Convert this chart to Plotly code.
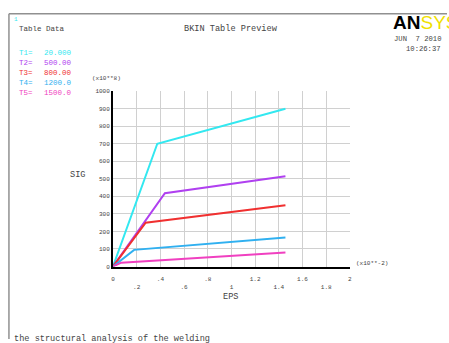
import plotly.graph_objects as go

# ---- data ----
temps = ["20.000", "500.00", "800.00", "1200.0", "1500.0"]
labels = ["T1=", "T2=", "T3=", "T4=", "T5="]
colors = ["#33e8f0", "#b040f0", "#f03030", "#30b0f0", "#f040c0"]
eps_T1 = [0, 0.374, 1.456]
sig_T1 = [0, 700, 900]
eps_T2 = [0, 0.438, 1.456]
sig_T2 = [0, 418, 515]
eps_T3 = [0, 0.276, 1.456]
sig_T3 = [0, 250, 350]
eps_T4 = [0, 0.178, 1.456]
sig_T4 = [0, 95, 166]
eps_T5 = [0, 0.07, 1.456]
sig_T5 = [0, 22, 80]
xticks = [0, 0.2, 0.4, 0.6, 0.8, 1.0, 1.2, 1.4, 1.6, 1.8, 2.0]
xticklabels = ["0", ".2", ".4", ".6", ".8", "1", "1.2", "1.4", "1.6", "1.8", "2"]
yticks = [0, 100, 200, 300, 400, 500, 600, 700, 800, 900, 1000]

W, H = 449, 343
MONO = "Liberation Mono"
TXT = "#444444"

series = [(eps_T1, sig_T1), (eps_T2, sig_T2), (eps_T3, sig_T3), (eps_T4, sig_T4), (eps_T5, sig_T5)]

fig = go.Figure()
for i, (xs, ys) in enumerate(series):
    fig.add_trace(go.Scatter(x=xs, y=ys, mode="lines",
                             line=dict(color=colors[i], width=2),
                             showlegend=False, hoverinfo="skip"))

x0, x1 = 112, 351
y0, y1 = 90, 269

xt_text = [t if k % 2 == 0 else "<br>" + t for k, t in enumerate(xticklabels)]

fig.update_layout(
    width=W, height=H,
    margin=dict(l=0, r=0, t=0, b=0),
    paper_bgcolor="white", plot_bgcolor="white",
    font=dict(family=MONO, color=TXT),
    xaxis=dict(domain=[x0 / W, x1 / W], range=[0, 2],
               tickvals=xticks, ticktext=xt_text,
               tickfont=dict(size=6, family=MONO, color=TXT),
               ticklabelstandoff=5,
               showgrid=True, gridcolor="#d0d0d0", gridwidth=1,
               showline=True, linecolor="black", linewidth=2,
               zeroline=False, ticks="", fixedrange=True),
    yaxis=dict(domain=[1 - y1 / H, 1 - y0 / H], range=[0, 1000],
               tickvals=yticks,
               tickfont=dict(size=6, family=MONO, color=TXT),
               showgrid=True, gridcolor="#d0d0d0", gridwidth=1,
               showline=True, linecolor="black", linewidth=2,
               zeroline=False, ticks="", fixedrange=True),
)

def txt(x, y, s, size=7.5, color=TXT, anchor="left", family=MONO):
    fig.add_annotation(x=x / W, y=1 - y / H, xref="paper", yref="paper",
                       text=s, showarrow=False, xanchor=anchor, yanchor="middle",
                       font=dict(size=size, color=color, family=family))

# frame
fig.add_shape(type="line", xref="paper", yref="paper", x0=7 / W, x1=1, y0=1 - 11 / H, y1=1 - 11 / H,
              line=dict(color="#909090", width=1.5))
fig.add_shape(type="line", xref="paper", yref="paper", x0=7 / W, x1=7 / W, y0=0, y1=1 - 11 / H,
              line=dict(color="#909090", width=1.5))

txt(10, 17, "1", size=6, color=colors[0])
txt(15, 27, "Table Data")
for i in range(5):
    yy = 51.5 + i * 10
    txt(15, yy, labels[i], color=colors[i])
    txt(40, yy, temps[i], color=colors[i])

txt(231, 27, "BKIN Table Preview", size=8.6, anchor="center")
txt(392, 20, "<b>AN</b><span style='color:#f0e000'>SYS</span>", size=19,
    color="black", family="Liberation Sans")
txt(445, 37, "JUN  7 2010", size=7.2, anchor="right")
txt(445, 47, "10:26:37", size=7.2, anchor="right")

txt(89, 77, "(x10**8)", size=6)
txt(67, 176, "SIG", size=8.6)
txt(355, 266, "(x10**-2)", size=6)
txt(231, 300, "EPS", size=8.6, anchor="center")
txt(10, 343, "the structural analysis of the welding", size=8.6)

fig.write_html("out.html", config={"displayModeBar": False, "staticPlot": True},
               post_script="document.body.style.margin='0';document.body.style.overflow='hidden';")
